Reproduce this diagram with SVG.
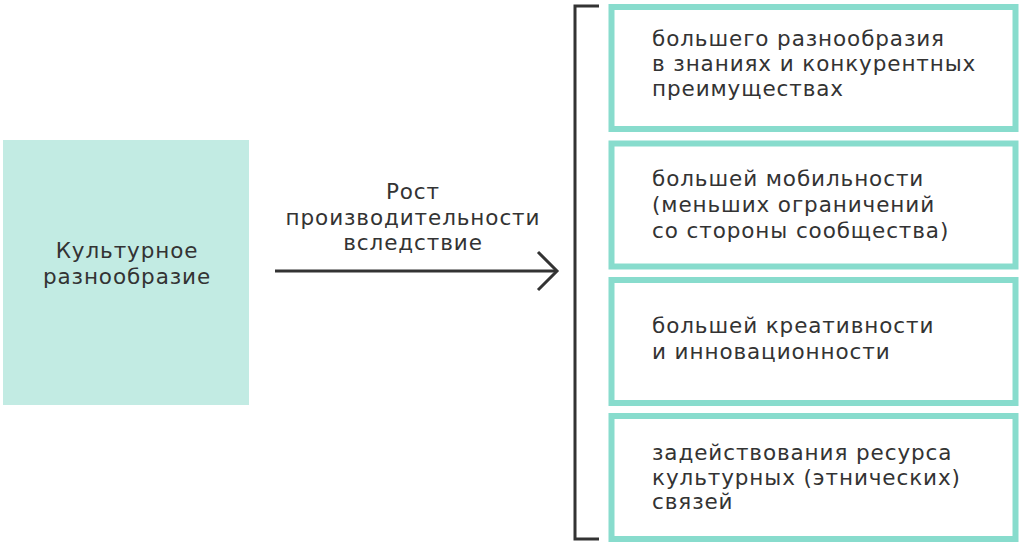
<svg xmlns="http://www.w3.org/2000/svg" width="1024" height="545" viewBox="0 0 1024 545">
<style>
.t{font-family:"DejaVu Sans","Open Sans",sans-serif;font-size:21.5px;fill:#333333;letter-spacing:0.9px}
.c{text-anchor:middle}
.box{fill:#ffffff;stroke:#88dccd;stroke-width:6}
.ln{stroke:#333333;stroke-width:3;fill:none}
</style>
<rect width="1024" height="545" fill="#ffffff"/>
<g id="source">
<rect x="3" y="140" width="246" height="265" fill="#c2ebe3"/>
<text class="t c" x="127" y="258">Культурное</text>
<text class="t c" x="127" y="284">разнообразие</text>
</g>
<g id="connectors">
<line class="ln" x1="275" y1="271" x2="556" y2="271"/>
<polyline class="ln" points="538,252 557,271 538,290"/>
<polyline class="ln" points="599,6 575,6 575,539 599,539"/>
<text class="t c" x="413" y="199">Рост</text>
<text class="t c" x="413" y="225">производительности</text>
<text class="t c" x="413" y="250">вследствие</text>
</g>
<g id="item1">
<rect class="box" x="611.5" y="7" width="404" height="122"/>
<text class="t" x="652" y="46">большего разнообразия</text>
<text class="t" x="652" y="71">в знаниях и конкурентных</text>
<text class="t" x="652" y="96">преимуществах</text>
</g>
<g id="item2">
<rect class="box" x="611.5" y="143.5" width="404" height="123"/>
<text class="t" x="652" y="186">большей мобильности</text>
<text class="t" x="652" y="212">(меньших ограничений</text>
<text class="t" x="652" y="238">со стороны сообщества)</text>
</g>
<g id="item3">
<rect class="box" x="611.5" y="280" width="404" height="123"/>
<text class="t" x="652" y="333">большей креативности</text>
<text class="t" x="652" y="359">и инновационности</text>
</g>
<g id="item4">
<rect class="box" x="611.5" y="416" width="404" height="123"/>
<text class="t" x="652" y="460">задействования ресурса</text>
<text class="t" x="652" y="485">культурных (этнических)</text>
<text class="t" x="652" y="509">связей</text>
</g>
</svg>
